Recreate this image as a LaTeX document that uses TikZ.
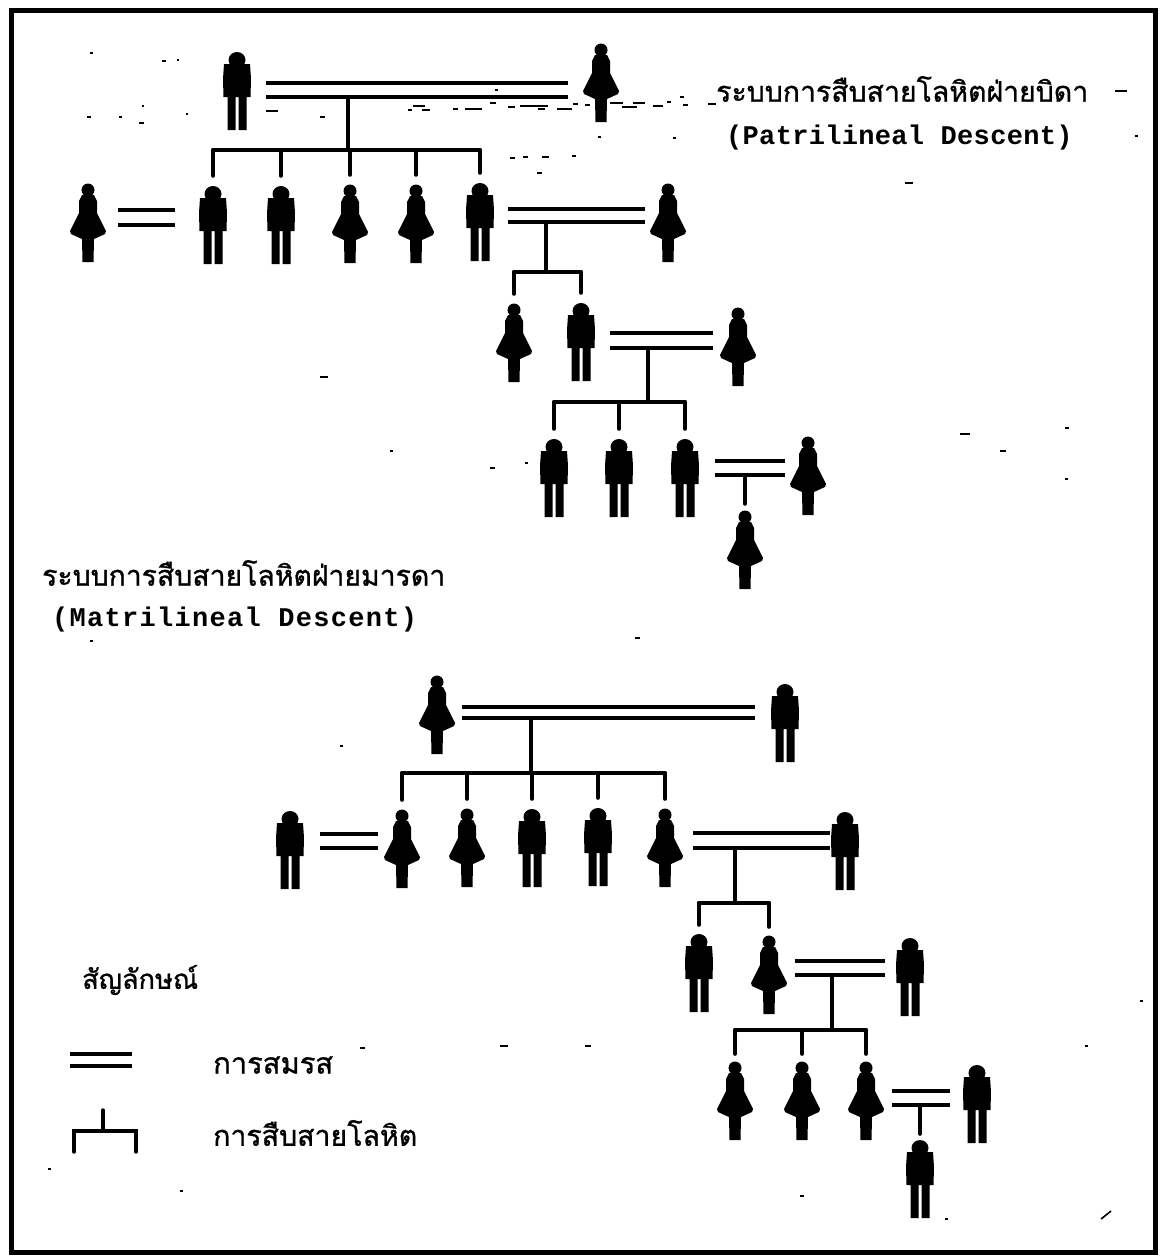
\documentclass[tikz,border=0pt]{standalone}
\usepackage{fontspec}
\setmonofont{Liberation Mono}[BoldFont={Liberation Mono Bold}]
\newfontfamily\thaifont[Script=Thai]{Loma}
\usetikzlibrary{calc}
\tikzset{
  x=1pt,y=-1pt,
  kin/.style={line width=4pt,black,line cap=round},
  wed/.style={line width=3.6pt,black,line cap=butt},
  dropline/.style={kin,shorten >=10pt},
  fig/.style={inner sep=0pt,minimum width=28pt,minimum height=78pt},
  man/.pic={
    \fill (0,-31) ellipse (8.5 and 8);
    \fill (-13,-27) -- (13,-27) -- (14,-12) -- (13.5,6) -- (9.5,6) -- (9.5,39) -- (1.5,39) -- (1.5,6) -- (-1.5,6) -- (-1.5,39) -- (-9.5,39) -- (-9.5,6) -- (-13.5,6) -- (-14,-12) -- cycle;
  },
  woman/.pic={
    \fill (0,-33) circle (6.5);
    \fill (-6,-28) -- (-9,-22) -- (-9,-10) -- (-18,8) -- (-17,11) -- (-6,16) -- (-5.5,39) -- (5.5,39) -- (6,16) -- (17,11) -- (18,8) -- (9,-10) -- (9,-22) -- (6,-28) -- cycle;
  },
  thai/.style={inner sep=0pt,black},
  latin/.style={inner sep=0pt,black,font=\ttfamily\bfseries\fontsize{27}{30}\selectfont},
}
% \pers{type}{name}{cx}{top}
\newcommand{\pers}[4]{%
  \node[fig] (#2) at (#3,{#4+39}) {};
  \pic at (#2.center) {#1};
}
% \wedding{name}{x1}{x2}{y1}{y2}
\newcommand{\wedding}[5]{%
  \coordinate (#1-a) at (#2,#4); \coordinate (#1-b) at (#3,#4);
  \coordinate (#1-c) at (#2,#5); \coordinate (#1-d) at (#3,#5);
  \draw[wed] (#1-a) -- (#1-b);
  \draw[wed] (#1-c) -- (#1-d);
}
\newcommand{\thaitext}[5]{% name, left x, centre y, width, text
  \node[thai,anchor=west] (#1) at (#2,#3) {\resizebox{#4pt}{!}{\thaifont\addfontfeature{FakeBold=1} #5}};
}
\begin{document}
\begin{tikzpicture}
\useasboundingbox (0,0) rectangle (1166,1258);
\fill[white] (0,0) rectangle (1166,1258);
\draw[line width=5pt,black] (11,10) rectangle (1155,1252);

% --- Patrilineal
\pers{man}{pa}{237}{52}
\pers{woman}{pb}{601}{44}
\wedding{p1}{266}{568}{83}{97}
\coordinate (p1s) at (348,97); \coordinate (p1bar) at (348,150);
\pers{woman}{qa}{88}{184}
\pers{man}{qb}{213}{186}
\pers{man}{qc}{281}{186}
\pers{woman}{qd}{350}{185}
\pers{woman}{qe}{416}{185}
\pers{man}{qf}{480}{183}
\pers{woman}{qg}{668}{184}
\draw[kin] (p1s) -- (p1bar);
\draw[kin] (qb.north |- p1bar) -- (qf.north |- p1bar);
\foreach \c in {qb,qc,qd,qe,qf} \draw[dropline] (\c.north |- p1bar) -- (\c.north);
\wedding{q1}{118}{175}{210}{225}
\wedding{q2}{508}{645}{209}{222}
\coordinate (q2s) at (546,222); \coordinate (q2bar) at (546,272);
\pers{woman}{ra}{514}{304}
\pers{man}{rb}{581}{303}
\pers{woman}{rc}{738}{308}
\draw[kin] (q2s) -- (q2bar);
\draw[kin] (ra.north |- q2bar) -- (rb.north |- q2bar);
\foreach \c in {ra,rb} \draw[dropline] (\c.north |- q2bar) -- (\c.north);
\wedding{r1}{610}{713}{333}{348}
\coordinate (r1s) at (648,348); \coordinate (r1bar) at (648,402);
\pers{man}{sa}{554}{439}
\pers{man}{sb}{619}{439}
\pers{man}{sc}{685}{439}
\pers{woman}{sd}{808}{437}
\draw[kin] (r1s) -- (r1bar);
\draw[kin] (sa.north |- r1bar) -- (sc.north |- r1bar);
\foreach \c in {sa,sb,sc} \draw[dropline] (\c.north |- r1bar) -- (\c.north);
\wedding{s1}{715}{785}{461}{475}
\coordinate (s1s) at (745,475);
\pers{woman}{ta}{745}{511}
\draw[kin,shorten >=7pt] (s1s) -- (ta.north);

% --- Matrilineal
\pers{woman}{ma}{437}{676}
\pers{man}{mb}{785}{684}
\wedding{m1}{462}{755}{707}{718}
\coordinate (m1s) at (531,718); \coordinate (m1bar) at (531,773);
\pers{man}{na}{290}{811}
\pers{woman}{nb}{402}{810}
\pers{woman}{nc}{467}{809}
\pers{man}{nd}{532}{809}
\pers{man}{ne}{598}{808}
\pers{woman}{nf}{665}{809}
\pers{man}{ng}{845}{812}
\draw[kin] (m1s) -- (m1bar);
\draw[kin] (nb.north |- m1bar) -- (nf.north |- m1bar);
\foreach \c in {nb,nc,nd,ne,nf} \draw[dropline] (\c.north |- m1bar) -- (\c.north);
\wedding{n1}{320}{378}{834}{848}
\wedding{n2}{693}{830}{833}{848}
\coordinate (n2s) at (735,848); \coordinate (n2bar) at (735,903);
\pers{man}{oa}{699}{934}
\pers{woman}{ob}{769}{936}
\pers{man}{oc}{910}{938}
\draw[kin] (n2s) -- (n2bar);
\draw[kin] (oa.north |- n2bar) -- (ob.north |- n2bar);
\foreach \c in {oa,ob} \draw[kin,shorten >=9pt] (\c.north |- n2bar) -- (\c.north);
\wedding{o1}{795}{885}{961}{975}
\coordinate (o1s) at (832,975); \coordinate (o1bar) at (832,1030);
\pers{woman}{ua}{735}{1062}
\pers{woman}{ub}{802}{1062}
\pers{woman}{uc}{866}{1062}
\pers{man}{ud}{977}{1065}
\draw[kin] (o1s) -- (o1bar);
\draw[kin] (ua.north |- o1bar) -- (uc.north |- o1bar);
\foreach \c in {ua,ub,uc} \draw[kin,shorten >=8pt] (\c.north |- o1bar) -- (\c.north);
\wedding{u1}{892}{950}{1091}{1105}
\coordinate (u1s) at (920,1105);
\pers{man}{va}{920}{1140}
\draw[kin,shorten >=6pt] (u1s) -- (va.north);

% --- Legend
\wedding{l1}{70}{132}{1054}{1066}
\coordinate (l2top) at (103,1110); \coordinate (l2bar) at (103,1131);
\coordinate (l2a) at (74,1152); \coordinate (l2b) at (136,1152);
\draw[kin,line width=3.4pt] (l2top) -- (l2bar);
\draw[kin,line width=3.4pt] (l2a) -- (l2a |- l2bar) -- (l2b |- l2bar) -- (l2b);

% --- Text
\thaitext{t1}{716}{89}{372}{ระบบการสืบสายโลหิตฝ่ายบิดา}
\node[latin,anchor=west] (t2) at (726,138) {\addfontfeature{LetterSpace=1.2}(Patrilineal Descent)};
\thaitext{t3}{42}{573}{403}{ระบบการสืบสายโลหิตฝ่ายมารดา}
\node[latin,anchor=west] (t4) at (52,620) {\addfontfeature{LetterSpace=4.8}(Matrilineal Descent)};
\thaitext{t5}{82}{980}{116}{สัญลักษณ์}
\thaitext{t6}{213}{1065}{120}{การสมรส}
\thaitext{t7}{213}{1133}{204}{การสืบสายโลหิต}

% --- scan specks
\foreach \x/\y/\w in {90/52/3,162/60/4,177/59/2,142/105/2,87/116/4,119/116/3,139/122/5,186/113/2,266/110/12,320/116/5,
  408/109/4,413/105/12,422/109/8,453/108/5,465/108/17,490/102/6,508/106/7,520/105/28,538/108/7,557/108/15,573/103/5,585/104/5,
  610/102/13,622/106/15,633/102/12,653/105/10,667/101/4,680/96/4,683/104/5,708/103/8,495/89/3,598/136/3,673/137/3,
  542/156/7,523/156/5,572/155/4,537/172/5,510/157/5,
  1115/90/12,1135/135/3,905/182/8,320/376/8,390/450/3,960/433/10,1065/427/4,1000/450/6,490/467/5,525/462/3,
  1065/478/3,635/637/5,90/640/3,500/1045/8,585/1045/6,360/1047/5,1085/1045/3,48/1168/3,180/1190/3,800/1195/4,945/1218/3,1140/1000/3,340/745/3}
  \fill (\x,\y) rectangle ({\x+\w},{\y+2});
\coordinate (slashA) at (1101,1219); \coordinate (slashB) at (1111,1211);
\draw[line width=1.6pt] (slashA) -- (slashB);
\end{tikzpicture}
\end{document}
